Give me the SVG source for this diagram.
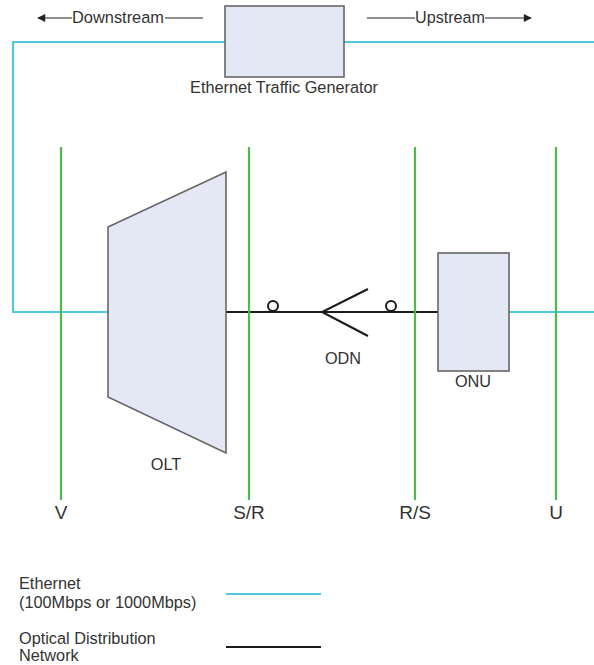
<svg xmlns="http://www.w3.org/2000/svg" width="594" height="665" viewBox="0 0 594 665">
<style>
.t{font-family:"Liberation Sans",Arial,sans-serif;font-size:16.3px;fill:#333}
.big{font-size:19px}
.c{text-anchor:middle}
.eth{stroke:#52c6de;stroke-width:2.2;fill:none}
.ref{stroke:#4cbb4c;stroke-width:2.2;fill:none}
.odn{stroke:#1a1a1a;stroke-width:2;fill:none}
.box{fill:#e3e8f4;stroke:#666;stroke-width:1.6}
.dir{stroke:#222;stroke-width:1.2;fill:none}
</style>
<defs>
<marker id="ah" viewBox="0 0 10 10" refX="9" refY="5" markerWidth="12" markerHeight="8" markerUnits="userSpaceOnUse" orient="auto">
<path d="M0,0 L10,5 L0,10 z" fill="#222"/>
</marker>
</defs>
<rect width="594" height="665" fill="#fff"/>
<g id="connectors">
<polyline class="eth" points="225,42 13,42 13,312 108,312"/>
<line class="eth" x1="344" y1="42" x2="594" y2="42"/>
<line class="eth" x1="509" y1="312" x2="594" y2="312"/>
<line class="odn" x1="226" y1="312" x2="438" y2="312"/>
<polyline class="odn" points="368,289 322,312 368,336"/>
<circle class="odn" cx="273" cy="306" r="5"/>
<circle class="odn" cx="391" cy="306" r="5"/>
</g>
<g id="ref-points">
<line class="ref" x1="61" y1="147" x2="61" y2="500"/>
<line class="ref" x1="249" y1="147" x2="249" y2="500"/>
<line class="ref" x1="415" y1="147" x2="415" y2="500"/>
<line class="ref" x1="556" y1="147" x2="556" y2="500"/>
<text class="t big c" x="61" y="519">V</text>
<text class="t big c" x="249" y="519">S/R</text>
<text class="t big c" x="415" y="519">R/S</text>
<text class="t big c" x="556" y="519">U</text>
</g>
<g id="direction">
<line class="dir" x1="72" y1="18" x2="38" y2="18" marker-end="url(#ah)"/>
<text class="t" x="72" y="23" textLength="92" lengthAdjust="spacingAndGlyphs">Downstream</text>
<line class="dir" x1="165" y1="18" x2="203" y2="18"/>
<line class="dir" x1="367" y1="18" x2="415" y2="18"/>
<text class="t" x="415" y="23" textLength="70" lengthAdjust="spacingAndGlyphs">Upstream</text>
<line class="dir" x1="485" y1="18" x2="531" y2="18" marker-end="url(#ah)"/>
</g>
<g id="generator">
<rect class="box" x="225" y="6" width="119" height="71"/>
<text class="t c" x="284" y="93">Ethernet Traffic Generator</text>
</g>
<g id="olt">
<polygon class="box" points="108,227 226,172 226,453 108,397"/>
<text class="t c" x="166" y="470">OLT</text>
</g>
<g id="odn">
<text class="t c" x="343" y="364">ODN</text>
</g>
<g id="onu">
<rect class="box" x="438" y="253" width="71" height="118"/>
<text class="t c" x="473" y="387">ONU</text>
</g>
<g id="legend">
<text class="t" x="19" y="589">Ethernet</text>
<text class="t" x="19" y="608">(100Mbps or 1000Mbps)</text>
<line class="eth" x1="226" y1="594" x2="321" y2="594"/>
<text class="t" x="19" y="644">Optical Distribution</text>
<text class="t" x="19" y="661">Network</text>
<line class="odn" x1="226" y1="647" x2="321" y2="647"/>
</g>
</svg>
